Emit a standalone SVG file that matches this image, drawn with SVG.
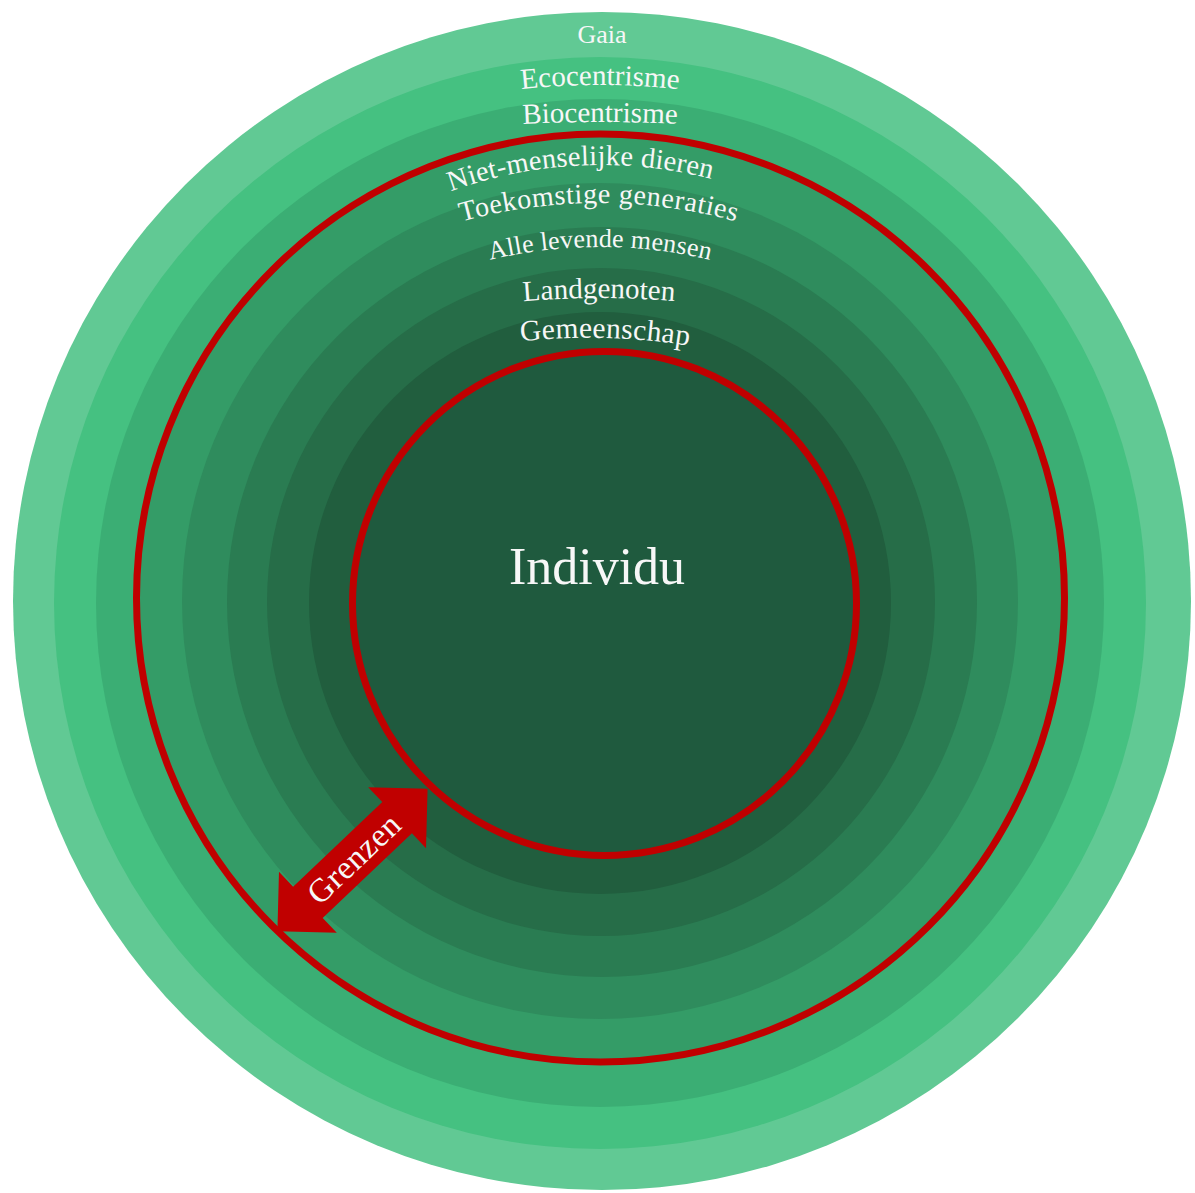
<svg xmlns="http://www.w3.org/2000/svg" width="1195" height="1193" viewBox="0 0 1195 1193">
  <style>
    .lbl { font-family: "Liberation Serif", "Times New Roman", serif; fill: #f7f7f7; text-anchor: middle; }
    .red { fill: none; stroke: #c00000; stroke-width: 7; }
  </style>
  <defs>
    <path id="pEco" d="M 346.9 129.6 A 740 740 0 0 1 853.1 129.6"/>
    <path id="pBio" d="M 339.5 144.8 A 1500 1500 0 0 1 860.5 144.8"/>
    <path id="pNiet" d="M 316.9 268.4 A 442 442 0 0 1 885.1 268.4"/>
    <path id="pToek" d="M 301.9 296.7 A 518 518 0 0 1 896.1 296.7"/>
    <path id="pAlle" d="M 329.3 332.3 A 472 472 0 0 1 870.7 332.3"/>
    <path id="pLand" d="M 366.1 328.7 A 900 900 0 0 1 831.9 328.7"/>
    <path id="pGem" d="M 386.1 376.6 A 640 640 0 0 1 823.9 376.6"/>
  </defs>
  <rect width="1195" height="1193" fill="#ffffff"/>

  <g id="gaia"><circle cx="602" cy="601" r="589" fill="#61c994"/></g>
  <g id="ecocentrisme"><circle cx="600" cy="603" r="546" fill="#45c181"/></g>
  <g id="biocentrisme"><circle cx="600" cy="603" r="504" fill="#3bae74"/></g>
  <g id="niet-menselijke-dieren"><circle cx="600.5" cy="598" r="464" fill="#349c67"/></g>
  <g id="toekomstige-generaties"><circle cx="600" cy="601" r="418" fill="#2f8c5d"/></g>
  <g id="alle-levende-mensen"><circle cx="602" cy="602" r="375" fill="#2a7c52"/></g>
  <g id="landgenoten"><circle cx="601" cy="602" r="334" fill="#266d48"/></g>
  <g id="gemeenschap"><circle cx="600" cy="603" r="291" fill="#215e3e"/></g>
  <g id="individu"><circle cx="604.5" cy="603.4" r="252" fill="#1f5a3e"/></g>

  <g id="borders">
    <circle class="red" cx="600.5" cy="598" r="464"/>
    <circle class="red" cx="604.5" cy="603.4" r="252"/>
  </g>

  <g id="labels">
    <text class="lbl" x="602" y="43" font-size="26">Gaia</text>
    <text class="lbl" font-size="29"><textPath href="#pEco" startOffset="50%">Ecocentrisme</textPath></text>
    <text class="lbl" font-size="29"><textPath href="#pBio" startOffset="50%">Biocentrisme</textPath></text>
    <text class="lbl" font-size="28.5" letter-spacing="0.2" transform="rotate(-2.7 601 607)"><textPath href="#pNiet" startOffset="50%">Niet-menselijke dieren</textPath></text>
    <text class="lbl" font-size="28" letter-spacing="0.6"><textPath href="#pToek" startOffset="50%">Toekomstige generaties</textPath></text>
    <text class="lbl" font-size="26" letter-spacing="0.2"><textPath href="#pAlle" startOffset="50%">Alle levende mensen</textPath></text>
    <text class="lbl" font-size="29"><textPath href="#pLand" startOffset="50%">Landgenoten</textPath></text>
    <text class="lbl" font-size="29.5" letter-spacing="0.3" transform="rotate(1.5 605 340)"><textPath href="#pGem" startOffset="50%">Gemeenschap</textPath></text>
    <text class="lbl" x="597" y="584" font-size="52">Individu</text>
  </g>

  <g id="connectors">
    <g transform="translate(352.5 860) rotate(-43.5)">
      <path d="M -103.5 0 L -61.5 -42 L -61.5 -21.5 L 61.5 -21.5 L 61.5 -42 L 103.5 0 L 61.5 42 L 61.5 21.5 L -61.5 21.5 L -61.5 42 Z" fill="#c00000"/>
      <text class="lbl" x="2" y="11" font-size="33" letter-spacing="0.5">Grenzen</text>
    </g>
  </g>
</svg>
